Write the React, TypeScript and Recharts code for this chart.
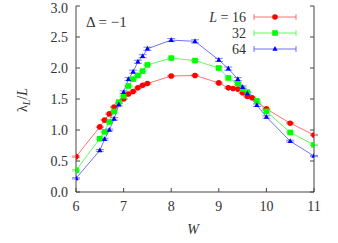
import React from 'react';
import { LineChart, Line, XAxis, YAxis, ErrorBar } from 'recharts';

const wL16 = [6, 6.5, 6.6, 6.7, 6.8, 7, 7.1, 7.2, 7.3, 7.4, 7.5, 8, 8.5, 9, 9.2, 9.3, 9.4, 9.5, 9.6, 9.7, 10, 10.5, 11];
const lamL16 = [0.57, 1.05, 1.16, 1.26, 1.37, 1.5, 1.58, 1.62, 1.68, 1.72, 1.75, 1.87, 1.88, 1.76, 1.68, 1.67, 1.66, 1.6, 1.54, 1.52, 1.34, 1.11, 0.92];
const errL16 = [0.01, 0.01, 0.01, 0.01, 0.01, 0.01, 0.01, 0.01, 0.01, 0.01, 0.01, 0.01, 0.01, 0.01, 0.01, 0.01, 0.01, 0.01, 0.01, 0.01, 0.01, 0.01, 0.01];

const wL32 = [6, 6.5, 6.6, 6.7, 6.8, 6.9, 7, 7.1, 7.2, 7.3, 7.4, 7.5, 8, 8.5, 9, 9.2, 9.4, 9.5, 9.6, 9.8, 10, 10.5, 11];
const lamL32 = [0.35, 0.86, 0.97, 1.13, 1.3, 1.45, 1.55, 1.71, 1.82, 1.88, 1.95, 2.05, 2.16, 2.12, 2.0, 1.84, 1.75, 1.66, 1.61, 1.47, 1.3, 0.96, 0.76];
const errL32 = [0.01, 0.01, 0.01, 0.01, 0.01, 0.01, 0.01, 0.01, 0.01, 0.01, 0.01, 0.01, 0.015, 0.015, 0.015, 0.015, 0.015, 0.015, 0.015, 0.015, 0.015, 0.01, 0.01];

const wL64 = [6, 6.5, 6.6, 6.7, 6.8, 6.9, 7, 7.1, 7.2, 7.3, 7.4, 7.5, 8, 8.5, 9, 9.2, 9.4, 9.5, 9.6, 9.8, 10, 10.5, 11];
const lamL64 = [0.22, 0.67, 0.85, 1.0, 1.18, 1.41, 1.61, 1.82, 1.94, 2.1, 2.19, 2.31, 2.45, 2.43, 2.13, 1.99, 1.82, 1.69, 1.59, 1.4, 1.21, 0.82, 0.58];
const errL64 = [0.01, 0.015, 0.015, 0.015, 0.02, 0.02, 0.02, 0.025, 0.025, 0.025, 0.025, 0.025, 0.025, 0.025, 0.025, 0.025, 0.025, 0.02, 0.02, 0.02, 0.02, 0.015, 0.01];

const xTicks = [6, 7, 8, 9, 10, 11];
const yTicks = [0, 0.5, 1, 1.5, 2, 2.5, 3];
const seriesNames = ['16', '32', '64'];

const toRows = (w: number[], v: number[], e: number[]) => w.map((x, i) => ({ W: x, v: v[i], err: e[i] }));

const rows16 = toRows(wL16, lamL16, errL16);
const rows32 = toRows(wL32, lamL32, errL32);
const rows64 = toRows(wL64, lamL64, errL64);

const RED = '#ff0000';
const GREEN = '#00ff00';
const BLUE = '#0000ff';
const RED_LINE = '#ff4d4d';
const GREEN_LINE = '#33ff33';
const BLUE_LINE = '#4d4dff';
const AXIS = '#444';
const FONT = '"Liberation Serif", serif';

const Circle = (p: any) => <circle key={p.index} cx={p.cx} cy={p.cy} r={2.8} fill={RED} />;
const Square = (p: any) => <rect key={p.index} x={p.cx - 2.8} y={p.cy - 2.8} width={5.6} height={5.6} fill={GREEN} />;
const Tri = (p: any) => (
    <path key={p.index} d={`M${p.cx},${p.cy - 3} L${p.cx + 2.6},${p.cy + 1.8} L${p.cx - 2.6},${p.cy + 1.8} Z`} fill={BLUE} />
);

const tickStyle = { fill: '#333', fontSize: 14, fontFamily: FONT };

const LegendRow = ({ y, label, color, marker, first }: any) => (
    <g>
        <text x={246} y={y + 5} textAnchor="end" fontSize={14} fontFamily={FONT} fill="#333">
            {first ? <><tspan fontStyle="italic">L</tspan> = </> : null}{label}
        </text>
        <line x1={254} x2={296} y1={y} y2={y} stroke={color} strokeWidth={0.8} />
        <line x1={254} x2={254} y1={y - 3} y2={y + 3} stroke={color} strokeWidth={0.8} />
        <line x1={296} x2={296} y1={y - 3} y2={y + 3} stroke={color} strokeWidth={0.8} />
        {marker(275, y)}
    </g>
);

export default function App() {
    return (
        <div style={{ position: 'absolute', left: 0, top: 0, width: 338, height: 243, background: '#fff' }}>
            <LineChart width={338} height={243} margin={{ top: 6, right: 0, left: 0, bottom: 0 }}>
                <XAxis
                    dataKey="W"
                    type="number"
                    domain={[6, 11]}
                    ticks={xTicks}
                    allowDataOverflow
                    height={51}
                    stroke={AXIS}
                    tickSize={-4}
                    tickMargin={13}
                    tick={tickStyle}
                />
                <XAxis
                    xAxisId="top"
                    orientation="top"
                    type="number"
                    domain={[6, 11]}
                    ticks={xTicks}
                    allowDataOverflow
                    height={0}
                    stroke={AXIS}
                    tickSize={-4}
                    tickFormatter={() => ''}
                />
                <YAxis
                    type="number"
                    domain={[0, 3]}
                    ticks={yTicks}
                    allowDataOverflow
                    width={76}
                    stroke={AXIS}
                    tickSize={-4}
                    tickMargin={12}
                    tick={tickStyle}
                    tickFormatter={(v: number) => v.toFixed(1)}
                />
                <YAxis
                    yAxisId="right"
                    orientation="right"
                    type="number"
                    domain={[0, 3]}
                    ticks={yTicks}
                    allowDataOverflow
                    width={24}
                    stroke={AXIS}
                    tickSize={-4}
                    tickFormatter={() => ''}
                />
                <Line data={rows16} dataKey="v" stroke={RED_LINE} strokeWidth={0.8} dot={Circle} isAnimationActive={false}>
                    <ErrorBar dataKey="err" direction="y" width={4} stroke={RED_LINE} strokeWidth={0.7} />
                </Line>
                <Line data={rows32} dataKey="v" stroke={GREEN_LINE} strokeWidth={0.8} dot={Square} isAnimationActive={false}>
                    <ErrorBar dataKey="err" direction="y" width={4} stroke={GREEN_LINE} strokeWidth={0.7} />
                </Line>
                <Line data={rows64} dataKey="v" stroke={BLUE_LINE} strokeWidth={0.8} dot={Tri} isAnimationActive={false}>
                    <ErrorBar dataKey="err" direction="y" width={4} stroke={BLUE_LINE} strokeWidth={0.7} />
                </Line>
            </LineChart>
            <svg width={338} height={243} style={{ position: 'absolute', left: 0, top: 0, pointerEvents: 'none' }}>
                <text x={86} y={27} fontSize={15} fontFamily={FONT} fill="#333">Δ = −1</text>
                <LegendRow y={17} label={seriesNames[0]} first color={RED_LINE} marker={(x: number, y: number) => <circle cx={x} cy={y} r={2.8} fill={RED} />} />
                <LegendRow y={33} label={seriesNames[1]} color={GREEN_LINE} marker={(x: number, y: number) => <rect x={x - 2.8} y={y - 2.8} width={5.6} height={5.6} fill={GREEN} />} />
                <LegendRow y={49} label={seriesNames[2]} color={BLUE_LINE} marker={(x: number, y: number) => <path d={`M${x},${y - 3} L${x + 2.6},${y + 1.8} L${x - 2.6},${y + 1.8} Z`} fill={BLUE} />} />
                <text x={193} y={234} textAnchor="middle" fontSize={14} fontFamily={FONT} fontStyle="italic" fill="#333">W</text>
                <text transform="rotate(-90 27 100)" x={27} y={100} textAnchor="middle" fontSize={14} fontFamily={FONT} fill="#333">
                    λ<tspan fontSize={10} fontStyle="italic" dy={3}>L</tspan><tspan dy={-3}>/</tspan><tspan fontStyle="italic">L</tspan>
                </text>
            </svg>
        </div>
    );
}
